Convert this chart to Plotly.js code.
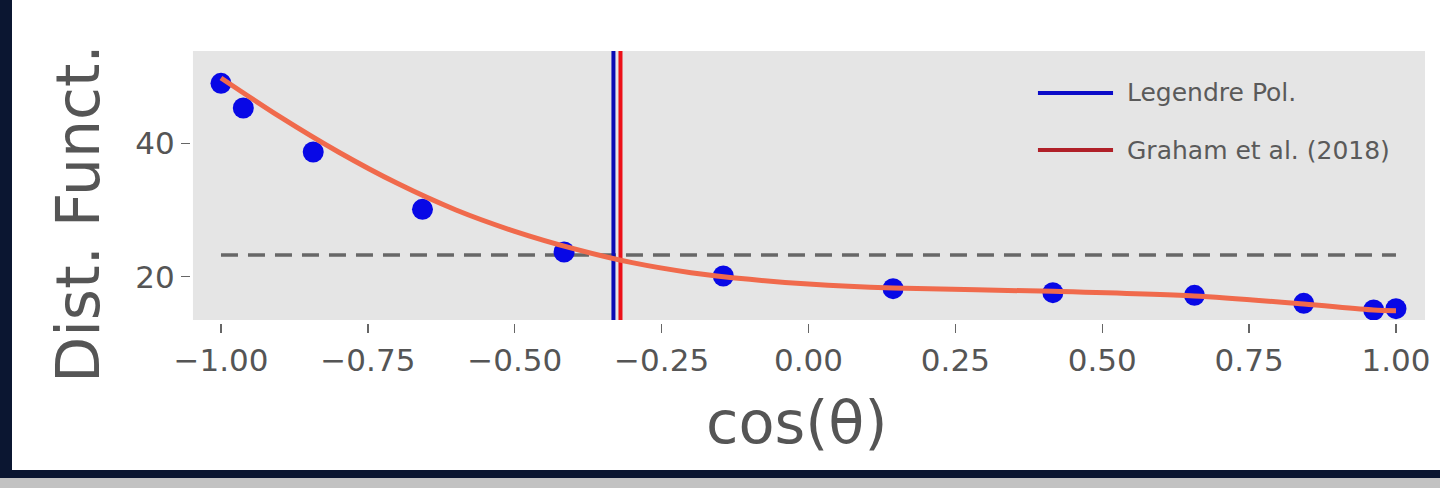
<!DOCTYPE html>
<html>
<head>
<meta charset="utf-8">
<script src="https://cdn.plot.ly/plotly-3.0.1.min.js"></script>
<style>
  html, body { margin: 0; padding: 0; width: 1440px; height: 488px; overflow: hidden; background: #0b1631; }
  #frame { position: absolute; left: 12px; top: 0; width: 1428px; height: 470px; background: #ffffff; }
  #strip { position: absolute; left: 0; top: 478px; width: 1440px; height: 10px; background: #c2c2c2; }
  #chart { width: 1428px; height: 470px; }
</style>
</head>
<body>
<div id="frame"><div id="chart"></div></div>
<div id="strip"></div>
<script>
// Measured data points (Dist. Funct. vs cos(theta))
const cosTheta = [-1.0, -0.962, -0.843, -0.657, -0.416, -0.145, 0.144, 0.416, 0.657, 0.843, 0.962, 1.0];
const distFunct = [49.0, 45.3, 38.7, 30.1, 23.7, 20.1, 18.2, 17.6, 17.2, 16.0, 15.0, 15.2];

// Fitted curve
const fitX = [-1.0, -0.9, -0.8, -0.7, -0.6, -0.5, -0.4, -0.3, -0.2, -0.1, 0.0, 0.144, 0.416, 0.657, 0.843, 0.962, 1.0];
const fitY = [49.8, 44.0, 38.7, 34.0, 30.0, 26.8, 24.2, 22.1, 20.6, 19.6, 18.9, 18.3, 17.8, 17.1, 15.9, 15.0, 14.9];

// Horizontal dashed reference level
const refLevelX = [-1.0, 1.0];
const refLevel = 23.25;

// Vertical markers
const legendreX = -0.332;
const grahamX = -0.320;

// Axis
const xTicks = [-1.0, -0.75, -0.5, -0.25, 0.0, 0.25, 0.5, 0.75, 1.0];
const xTickText = ['\u22121.00', '\u22120.75', '\u22120.50', '\u22120.25', '0.00', '0.25', '0.50', '0.75', '1.00'];
const yTicks = [20, 40];
const xRange = [-1.0477, 1.0494];
const yRange = [13.5, 53.85];

const legendLabels = ['Legendre Pol.', 'Graham et al. (2018)'];
const xTitle = 'cos(\u03b8)';
const yTitle = 'Dist. Funct.';

const grey = '#555555';
const font = 'DejaVu Sans, sans-serif';

const traces = [
  {
    x: refLevelX, y: refLevelX.map(() => refLevel), mode: 'lines',
    line: { color: '#676767', width: 3.5, dash: '17px,10px' },
    showlegend: false, hoverinfo: 'skip'
  },
  {
    x: [legendreX, legendreX], y: yRange, mode: 'lines', name: legendLabels[0],
    line: { color: '#0b0bb5', width: 4 }, showlegend: false
  },
  {
    x: [grahamX, grahamX], y: yRange, mode: 'lines', name: legendLabels[1],
    line: { color: '#ec1018', width: 4 }, showlegend: false
  },
  {
    x: cosTheta, y: distFunct, mode: 'markers',
    marker: { color: '#0808e6', size: 21 }, showlegend: false
  },
  {
    x: fitX, y: fitY, mode: 'lines',
    line: { color: '#f06a4c', width: 5, shape: 'spline', smoothing: 0.8 }, showlegend: false
  }
];

const layout = {
  width: 1428, height: 470,
  margin: { l: 178, r: 15, t: 51, b: 147, pad: 0 },
  paper_bgcolor: '#ffffff',
  plot_bgcolor: '#e5e5e5',
  showlegend: false,
  font: { family: font, color: grey },
  xaxis: {
    domain: [0.0024, 1], anchor: 'free', position: 0,
    range: xRange, tickvals: xTicks, ticktext: xTickText,
    ticks: 'outside', ticklen: 9, tickwidth: 1.3, tickcolor: '#666666',
    showgrid: false, zeroline: false, showline: false,
    tickfont: { size: 31, color: grey, family: font },
    ticklabelstandoff: 1
  },
  yaxis: {
    domain: [0.011, 1], anchor: 'free', position: 0,
    range: yRange, tickvals: yTicks,
    ticks: 'outside', ticklen: 9, tickwidth: 1.3, tickcolor: '#666666',
    showgrid: false, zeroline: false, showline: false,
    tickfont: { size: 31, color: grey, family: font }
  },
  shapes: [
    { type: 'line', xref: 'paper', yref: 'paper', x0: 0.6866, x1: 0.7474, y0: 0.8456, y1: 0.8456,
      line: { color: '#0b0bc8', width: 4 } },
    { type: 'line', xref: 'paper', yref: 'paper', x0: 0.6866, x1: 0.7474, y0: 0.636, y1: 0.636,
      line: { color: '#b02028', width: 4 } }
  ],
  annotations: [
    { xref: 'paper', yref: 'paper', x: 0.7571, y: 0.8456, xanchor: 'left', yanchor: 'middle',
      text: legendLabels[0], showarrow: false, font: { size: 25, color: '#5a5a5a', family: font } },
    { xref: 'paper', yref: 'paper', x: 0.7571, y: 0.636, xanchor: 'left', yanchor: 'middle',
      text: legendLabels[1], showarrow: false, font: { size: 25, color: '#5a5a5a', family: font } },
    // x-axis title (page x ~796, page y ~422)
    { xref: 'paper', yref: 'paper', x: (796 - 12 - 178) / 1235, y: (323 - 422) / 272,
      xanchor: 'center', yanchor: 'middle',
      text: xTitle, showarrow: false, font: { size: 59, color: grey, family: font } },
    // y-axis title (page x ~78, page y ~213)
    { xref: 'paper', yref: 'paper', x: (78 - 12 - 178) / 1235, y: (323 - 213) / 272,
      xanchor: 'center', yanchor: 'middle', textangle: -90,
      text: yTitle, showarrow: false, font: { size: 60, color: grey, family: font } }
  ]
};

Plotly.newPlot('chart', traces, layout, { displayModeBar: false, staticPlot: true });
</script>
</body>
</html>
